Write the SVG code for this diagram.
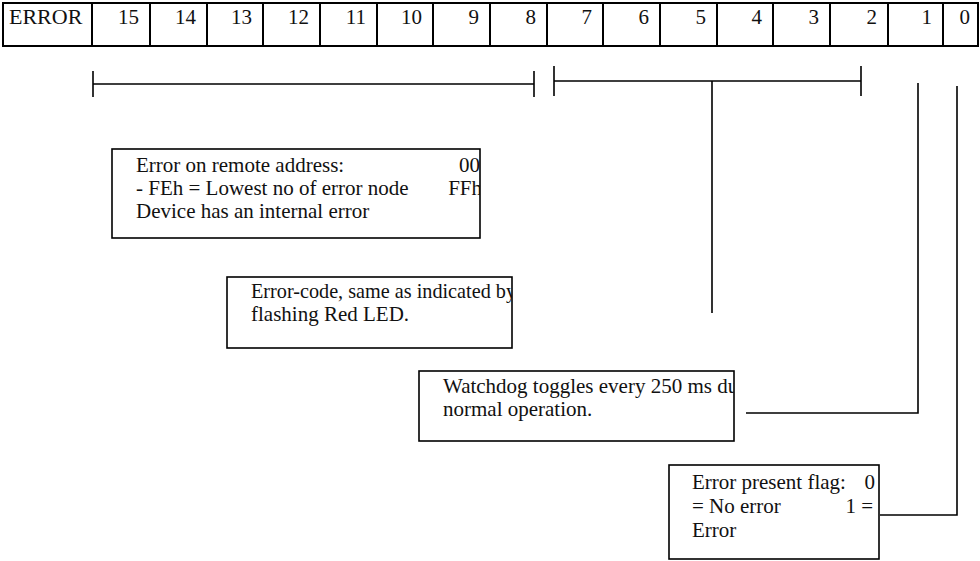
<svg xmlns="http://www.w3.org/2000/svg" width="980" height="561" viewBox="0 0 980 561">
<style>
.cell{fill:none;stroke:#000;stroke-width:2}
.hd{font-family:"Liberation Serif","Times New Roman",serif;font-size:22px;fill:#111}
.num{font-family:"Liberation Serif","Times New Roman",serif;font-size:21px;fill:#111;text-anchor:end}
.box{fill:#fff;stroke:#000;stroke-width:1.6}
.tx{font-family:"Liberation Serif","Times New Roman",serif;font-size:21px;fill:#111}
.ln{fill:none;stroke:#000;stroke-width:1.6}
</style>
<defs>
<clipPath id="c1"><rect x="112" y="149" width="368" height="89"/></clipPath>
<clipPath id="c2"><rect x="227" y="277" width="285" height="71"/></clipPath>
<clipPath id="c3"><rect x="419" y="371" width="315" height="70"/></clipPath>
<clipPath id="c4"><rect x="669" y="465" width="209" height="94"/></clipPath>
</defs>
<rect width="980" height="561" fill="#fff"/>
<g id="register">
<rect class="cell" x="3" y="3" width="975" height="43"/>
<path class="cell" d="M92 3V46M150 3V46M207 3V46M263 3V46M320 3V46M377 3V46M433 3V46M490 3V46M547 3V46M603 3V46M660 3V46M717 3V46M773 3V46M830 3V46M888 3V46M943 3V46"/>
<text class="hd" x="9" y="24">ERROR</text>
<text class="num" x="139" y="24">15</text>
<text class="num" x="196" y="24">14</text>
<text class="num" x="252" y="24">13</text>
<text class="num" x="309" y="24">12</text>
<text class="num" x="366" y="24">11</text>
<text class="num" x="422" y="24">10</text>
<text class="num" x="479" y="24">9</text>
<text class="num" x="536" y="24">8</text>
<text class="num" x="592" y="24">7</text>
<text class="num" x="649" y="24">6</text>
<text class="num" x="706" y="24">5</text>
<text class="num" x="762" y="24">4</text>
<text class="num" x="819" y="24">3</text>
<text class="num" x="877" y="24">2</text>
<text class="num" x="932" y="24">1</text>
<text class="num" x="970" y="24">0</text>
</g>
<g id="connectors">
<path class="ln" d="M93 84H534M93 71V97M534 71V97"/>
<path class="ln" d="M554 81H861M554 66V96M861 66V96M712 81V313"/>
<path class="ln" d="M918 83V413H746"/>
<path class="ln" d="M957 86V515H880"/>
</g>
<g id="box-remote">
<rect class="box" x="112" y="149" width="368" height="89"/>
<g clip-path="url(#c1)">
<text class="tx" x="136" y="172">Error on remote address:</text>
<text class="tx" x="480" y="172" text-anchor="end">00</text>
<text class="tx" x="136" y="195">- FEh = Lowest no of error node</text>
<text class="tx" x="482" y="195" text-anchor="end">FFh</text>
<text class="tx" x="136" y="218">Device has an internal error</text>
</g>
</g>
<g id="box-code">
<rect class="box" x="227" y="277" width="285" height="71"/>
<g clip-path="url(#c2)">
<text class="tx" x="251" y="298" textLength="265" lengthAdjust="spacingAndGlyphs">Error-code, same as indicated by</text>
<text class="tx" x="251" y="321">flashing Red LED.</text>
</g>
</g>
<g id="box-watchdog">
<rect class="box" x="419" y="371" width="315" height="70"/>
<g clip-path="url(#c3)">
<text class="tx" x="443" y="393">Watchdog toggles every 250 ms du</text>
<text class="tx" x="443" y="416">normal operation.</text>
</g>
</g>
<g id="box-flag">
<rect class="box" x="669" y="465" width="210" height="94"/>
<g clip-path="url(#c4)">
<text class="tx" x="692" y="489">Error present flag:</text>
<text class="tx" x="875" y="489" text-anchor="end">0</text>
<text class="tx" x="692" y="513">= No error</text>
<text class="tx" x="873" y="513" text-anchor="end">1 =</text>
<text class="tx" x="692" y="537">Error</text>
</g>
</g>
</svg>
